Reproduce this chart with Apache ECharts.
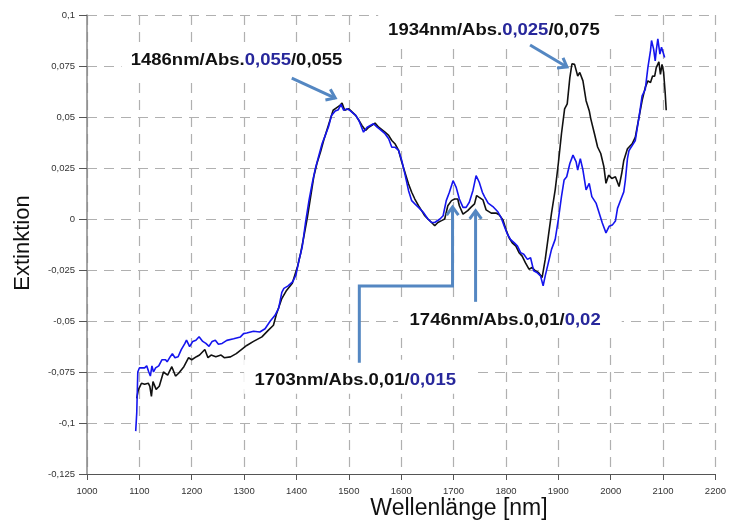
<!DOCTYPE html>
<html>
<head>
<meta charset="utf-8">
<script src="https://cdn.jsdelivr.net/npm/echarts@6/dist/echarts.min.js"></script>
<style>
  html, body { margin: 0; padding: 0; background: #fff; }
  #chart { width: 729px; height: 520px; }
</style>
</head>
<body>
<div id="chart"></div>
<script>
// spectrum 1 (black)
var blackNm = [1095, 1098, 1104, 1110, 1117, 1120, 1123, 1126, 1132, 1138, 1146, 1154, 1162, 1169, 1175, 1185,
	1194, 1200, 1209, 1215, 1225, 1231, 1237, 1246, 1256, 1262, 1274, 1285, 1293, 1305, 1318, 1334, 1346, 1356,
	1362, 1372, 1381, 1392, 1402, 1408, 1414, 1421, 1427, 1433, 1439, 1446, 1452, 1458, 1464, 1470, 1477, 1483,
	1487, 1492, 1500, 1506, 1513, 1519, 1525, 1532, 1538, 1544, 1550, 1557, 1563, 1569, 1576, 1582, 1588, 1595,
	1601, 1607, 1614, 1620, 1626, 1633, 1639, 1645, 1651, 1658, 1664, 1670, 1677, 1683, 1689, 1696, 1702, 1708,
	1711, 1718, 1727, 1733, 1740, 1744, 1749, 1756, 1762, 1772, 1781, 1787, 1794, 1800, 1806, 1812, 1819, 1825,
	1831, 1837, 1844, 1850, 1856, 1862, 1869, 1875, 1881, 1887, 1894, 1900, 1906, 1912, 1917, 1922, 1926, 1931,
	1937, 1941, 1947, 1953, 1959, 1962, 1969, 1975, 1981, 1987, 1991, 1996, 2002, 2009, 2016, 2021, 2025, 2032,
	2041, 2047, 2054, 2060, 2066, 2071, 2076, 2080, 2084, 2087, 2092, 2095, 2098, 2101, 2104, 2106];
var blackAbs = [-0.0879, -0.0838, -0.0805, -0.081, -0.0805, -0.082, -0.087, -0.0797, -0.0835, -0.082, -0.075,
	-0.0765, -0.0724, -0.077, -0.0756, -0.0724, -0.068, -0.069, -0.0675, -0.0667, -0.064, -0.068, -0.0667, -0.0675,
	-0.0667, -0.068, -0.0676, -0.066, -0.0644, -0.062, -0.06, -0.0578, -0.0546, -0.0521, -0.0464, -0.039, -0.035,
	-0.0315, -0.0233, -0.0168, -0.0087, 0.0011, 0.0109, 0.0207, 0.0272, 0.0329, 0.0386, 0.0435, 0.0484, 0.0533,
	0.0546, 0.0557, 0.0568, 0.0533, 0.054, 0.0525, 0.0508, 0.0484, 0.0459, 0.0434, 0.045, 0.0459, 0.047, 0.045,
	0.0438, 0.0426, 0.041, 0.0385, 0.0369, 0.0336, 0.0279, 0.0229, 0.0172, 0.0131, 0.0098, 0.0065, 0.0041, 0.0016,
	0, -0.0017, -0.0033, -0.0017, -0.0008, 0, 0.0065, 0.009, 0.0098, 0.0098, 0.0065, 0.0024, 0.0041, 0.0057,
	0.0074, 0.0115, 0.0106, 0.0094, 0.0045, 0.0029, 0.0029, 0.0021, -0.0003, -0.0052, -0.0092, -0.0117, -0.0133,
	-0.0165, -0.0182, -0.0214, -0.0246, -0.0238, -0.0254, -0.0262, -0.0287, -0.0198, -0.0084, 0.0029, 0.0143,
	0.0272, 0.0418, 0.054, 0.0564, 0.0693, 0.0761, 0.0758, 0.0701, 0.0718, 0.0677, 0.058, 0.0531, 0.0491, 0.0418,
	0.0353, 0.0321, 0.0256, 0.0175, 0.0215, 0.0199, 0.0207, 0.0159, 0.0223, 0.0287, 0.0344, 0.0369, 0.0401,
	0.0498, 0.058, 0.0645, 0.0677, 0.0669, 0.0701, 0.07, 0.0742, 0.077, 0.0709, 0.0758, 0.072, 0.062, 0.0533];

// spectrum 2 (blue)
var blueNm = [1093, 1095, 1097, 1100, 1110, 1114, 1118, 1121, 1124, 1127, 1131, 1134, 1137, 1140, 1143, 1150,
	1153, 1159, 1163, 1168, 1174, 1180, 1187, 1190, 1196, 1202, 1208, 1214, 1221, 1227, 1233, 1239, 1245, 1251,
	1258, 1267, 1280, 1293, 1299, 1305, 1318, 1330, 1340, 1350, 1359, 1366, 1372, 1376, 1384, 1393, 1399, 1405,
	1411, 1417, 1424, 1430, 1436, 1442, 1449, 1455, 1461, 1467, 1474, 1480, 1485, 1490, 1497, 1503, 1513, 1519,
	1528, 1535, 1547, 1554, 1560, 1569, 1576, 1582, 1588, 1595, 1601, 1607, 1614, 1620, 1626, 1633, 1642, 1651,
	1658, 1664, 1674, 1680, 1686, 1692, 1699, 1705, 1711, 1718, 1724, 1730, 1737, 1743, 1749, 1755, 1759, 1766,
	1775, 1784, 1791, 1797, 1803, 1809, 1816, 1822, 1828, 1834, 1841, 1847, 1853, 1859, 1866, 1871, 1875, 1881,
	1887, 1894, 1900, 1906, 1911, 1916, 1922, 1928, 1934, 1937, 1942, 1947, 1953, 1959, 1964, 1972, 1978, 1984,
	1991, 1997, 2003, 2009, 2013, 2019, 2025, 2028, 2032, 2035, 2041, 2047, 2054, 2060, 2066, 2071, 2076, 2078,
	2082, 2085, 2087, 2090, 2094, 2097, 2100, 2103];
var blueAbs = [-0.104, -0.095, -0.075, -0.073, -0.073, -0.072, -0.075, -0.077, -0.072, -0.075, -0.073, -0.0725,
	-0.072, -0.0715, -0.069, -0.069, -0.07, -0.0675, -0.066, -0.068, -0.0675, -0.064, -0.061, -0.0594, -0.0626,
	-0.06, -0.0594, -0.0577, -0.06, -0.061, -0.0624, -0.06, -0.0594, -0.0614, -0.061, -0.0595, -0.0587, -0.0578,
	-0.0562, -0.0559, -0.055, -0.0554, -0.0538, -0.05, -0.0472, -0.0437, -0.036, -0.034, -0.0328, -0.0307, -0.0274,
	-0.02, -0.0136, -0.0022, 0.0093, 0.0174, 0.0247, 0.0304, 0.037, 0.041, 0.0451, 0.0508, 0.0529, 0.0536, 0.0562,
	0.0533, 0.054, 0.053, 0.0508, 0.0484, 0.0426, 0.045, 0.0467, 0.045, 0.0438, 0.0418, 0.0393, 0.0352, 0.0352,
	0.0336, 0.0287, 0.0221, 0.0139, 0.009, 0.0074, 0.0057, 0.0033, 0, -0.0017, -0.0017, 0, 0.0016, 0.009, 0.0131,
	0.0188, 0.0155, 0.0098, 0.0057, 0.0057, 0.0082, 0.014, 0.0213, 0.018, 0.0131, 0.011, 0.0078, 0.0061, 0.0037,
	0.0005, -0.0036, -0.0076, -0.0101, -0.0117, -0.0133, -0.0165, -0.0173, -0.0198, -0.019, -0.0254, -0.0262,
	-0.0279, -0.0327, -0.0279, -0.0214, -0.0149, -0.01, -0.0003, 0.011, 0.0191, 0.0207, 0.0272, 0.0313, 0.028,
	0.024, 0.0296, 0.024, 0.0143, 0.0175, 0.011, 0.0078, 0.0029, -0.002, -0.0068, -0.0036, -0.003, -0.001, 0.0052,
	0.0093, 0.0133, 0.019, 0.0296, 0.0336, 0.036, 0.0385, 0.0498, 0.0604, 0.0635, 0.0742, 0.0825, 0.0875, 0.0833,
	0.0775, 0.0825, 0.0883, 0.0808, 0.0842, 0.0817, 0.0792];

// annotations: [black part, blue part, black part]
var labelParts = [
	['1486nm/Abs.', '0,055', '/0,055'],
	['1934nm/Abs.', '0,025', '/0,075'],
	['1746nm/Abs.0,01/', '0,02', ''],
	['1703nm/Abs.0,01/', '0,015', '']
];
// left edge / middle of each label, in axis units
var labelAt = [[1083.5, 0.0775], [1575, 0.0922], [1616, -0.0495], [1320, -0.0793]];
// white box behind each label: [nm left, abs top, nm right, abs bottom]
var labelBox = [[1066, 0.0868, 1541, 0.0701], [1556, 0.1044, 2008, 0.0838],
	[1594, -0.0406, 2021, -0.0578], [1300, -0.069, 1736, -0.0857]];
var arrowPaths = [
	[[1391, 0.0691], [1474, 0.0593]],
	[[1846, 0.0853], [1916.5, 0.0745]],
	[[1742, -0.0406], [1742, 0.004]],
	[[1520, -0.0705], [1520, -0.0328], [1698, -0.0328], [1698, 0.0059]]
];

var chart;

function pairs(xs, ys) {
	var out = [];
	for (var i = 0; i < xs.length; i++) out.push([xs[i], ys[i]]);
	return out;
}

function initChart() {
	chart = echarts.init(document.getElementById('chart'));
	var grid = { type: [10, 7], color: '#b0b0b0', width: 1.2 };
	chart.setOption({
		animation: false,
		backgroundColor: '#fff',
		grid: { left: 87, right: 10, top: 15, bottom: 46, containLabel: false },
		xAxis: {
			type: 'value', min: 1000, max: 2200, interval: 100,
			axisLine: { onZero: false, lineStyle: { color: '#555', width: 1.2 } },
			axisTick: { length: 6, lineStyle: { color: '#555' } },
			axisLabel: {
				margin: 12, fontSize: 9.5, color: '#333', fontFamily: 'Liberation Sans, Arial',
				formatter: function (v) { return String(v); }
			},
			splitLine: { show: true, lineStyle: grid }
		},
		yAxis: {
			type: 'value', min: -0.125, max: 0.1, interval: 0.025,
			axisLine: { show: true, onZero: false, lineStyle: { color: '#888', width: 1.5 } },
			axisTick: { show: true, length: 8, lineStyle: { color: '#555' } },
			axisLabel: {
				margin: 12, fontSize: 9.5, color: '#333', fontFamily: 'Liberation Sans, Arial',
				formatter: function (v) { return String(+v.toFixed(3)).replace('.', ','); }
			},
			splitLine: { show: true, lineStyle: grid }
		},
		series: [{
			type: 'line', name: 'schwarz', data: pairs(blackNm, blackAbs),
			showSymbol: false, lineStyle: { color: '#111', width: 1.6 }, z: 3
		}, {
			type: 'line', name: 'blau', data: pairs(blueNm, blueAbs),
			showSymbol: false, lineStyle: { color: '#1515ee', width: 1.6 }, z: 4
		}]
	});
}

function px(p) {
	return chart.convertToPixel({ gridIndex: 0 }, p);
}

function addAnnotations() {
	var els = [];
	var arrowColor = '#5487c2';
	var font = { fontFamily: 'Liberation Sans, Arial', fontWeight: 'bold', fontSize: 16.5 };

	// axis titles
	els.push({
		type: 'text', x: 459, y: 509, z: 20,
		style: { text: 'Wellenlänge [nm]', fill: '#111', fontFamily: 'Liberation Sans, Arial',
			fontSize: 23, align: 'center', verticalAlign: 'middle' }
	});
	els.push({
		type: 'text', x: 23, y: 243, rotation: Math.PI / 2, z: 20,
		style: { text: 'Extinktion', fill: '#111', fontFamily: 'Liberation Sans, Arial',
			fontSize: 22, align: 'center', verticalAlign: 'middle' }
	});

	for (var i = 0; i < labelParts.length; i++) {
		var b0 = px([labelBox[i][0], labelBox[i][1]]);
		var b1 = px([labelBox[i][2], labelBox[i][3]]);
		els.push({
			type: 'rect', z: 1, silent: true,
			shape: { x: b0[0], y: b0[1], width: b1[0] - b0[0], height: b1[1] - b0[1] },
			style: { fill: '#fff' }
		});

		var p = px(labelAt[i]);
		var parts = labelParts[i];
		var txt = '{k|' + parts[0] + '}{b|' + parts[1] + '}' + (parts[2] ? '{k|' + parts[2] + '}' : '');
		els.push({
			type: 'text', x: p[0], y: p[1], scaleX: 1.12, z: 20,
			style: {
				text: txt, align: 'left', verticalAlign: 'middle',
				fontFamily: font.fontFamily, fontWeight: font.fontWeight, fontSize: font.fontSize,
				rich: {
					k: { fill: '#111', fontFamily: font.fontFamily, fontWeight: 'bold', fontSize: font.fontSize },
					b: { fill: '#27279b', fontFamily: font.fontFamily, fontWeight: 'bold', fontSize: font.fontSize }
				}
			}
		});

		var pts = arrowPaths[i].map(px);
		els.push({
			type: 'polyline', z: 20, silent: true,
			shape: { points: pts },
			style: { stroke: arrowColor, lineWidth: 3, fill: null }
		});
		// open arrow head at the last point
		var t = pts[pts.length - 1], s = pts[pts.length - 2];
		var dx = t[0] - s[0], dy = t[1] - s[1];
		var len = Math.sqrt(dx * dx + dy * dy);
		dx /= len; dy /= len;
		var L = 10, a = Math.PI / 5;
		var h1 = [t[0] - L * (dx * Math.cos(a) - dy * Math.sin(a)), t[1] - L * (dy * Math.cos(a) + dx * Math.sin(a))];
		var h2 = [t[0] - L * (dx * Math.cos(a) + dy * Math.sin(a)), t[1] - L * (dy * Math.cos(a) - dx * Math.sin(a))];
		els.push({
			type: 'polyline', z: 20, silent: true,
			shape: { points: [h1, t, h2] },
			style: { stroke: arrowColor, lineWidth: 3, fill: null, lineJoin: 'miter' }
		});
	}
	chart.setOption({ graphic: els });
}

initChart();
addAnnotations();
</script>
</body>
</html>
